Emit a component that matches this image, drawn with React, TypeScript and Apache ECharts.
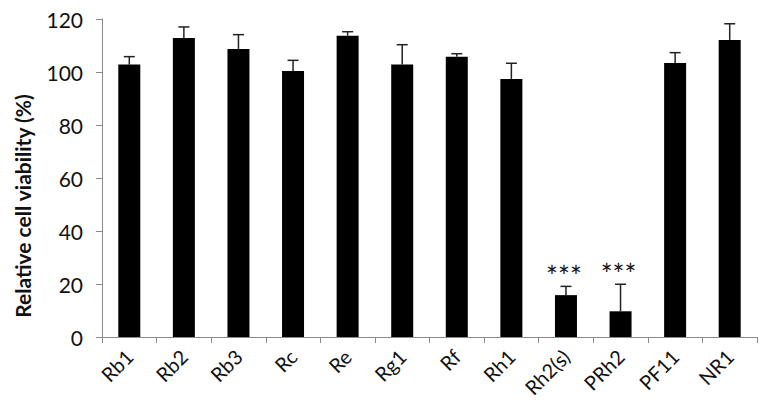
import React, { useEffect, useRef } from "react";
import * as echarts from "echarts";

const categories = ["Rb1", "Rb2", "Rb3", "Rc", "Re", "Rg1", "Rf", "Rh1", "Rh2(s)", "PRh2", "PF11", "NR1"];
const viability = [102.8, 112.8, 108.7, 100.4, 113.7, 102.8, 105.8, 97.4, 15.8, 9.7, 103.4, 112.1];
const errorUp = [3.0, 4.2, 5.4, 4.0, 1.5, 7.5, 1.1, 5.9, 3.3, 10.2, 3.9, 6.1];
const significance = ["", "", "", "", "", "", "", "", "***", "***", "", ""];
const yTicks = { min: 0, max: 120, interval: 20 };
const yTitle = "Relative cell viability (%)";

const FONT = "Lato, 'Open Sans', sans-serif";

export default function App() {
  const ref = useRef<HTMLDivElement>(null);
  useEffect(() => {
    document.body.style.margin = "0";
    const chart = echarts.init(ref.current!, null, { renderer: "svg" });
    chart.setOption({
      animation: false,
      backgroundColor: "#ffffff",
      grid: { left: 102, right: 8, top: 19, bottom: 76, containLabel: false },
      xAxis: {
        type: "category",
        data: categories,
        boundaryGap: true,
        axisLine: { lineStyle: { color: "#8a8a8a", width: 1 } },
        axisTick: { show: true, length: 6, lineStyle: { color: "#8a8a8a" } },
        axisLabel: {
          rotate: 45,
          interval: 0,
          fontSize: 20,
          color: "#111",
          fontFamily: FONT,
          margin: 16,
        },
      },
      yAxis: {
        type: "value",
        min: yTicks.min,
        max: yTicks.max,
        interval: yTicks.interval,
        splitLine: { show: false },
        axisLine: { show: true, lineStyle: { color: "#8a8a8a", width: 1 } },
        axisTick: { show: true, length: 6, lineStyle: { color: "#8a8a8a" } },
        axisLabel: { fontSize: 21, color: "#111", fontFamily: FONT, margin: 19 },
      },
      graphic: [
        {
          type: "text",
          x: 22,
          y: 206,
          rotation: Math.PI / 2,
          style: {
            text: yTitle,
            fill: "#111",
            font: "bold 21px " + FONT,
            align: "center",
            verticalAlign: "middle",
          },
        },
      ],
      series: [
        {
          type: "bar",
          data: viability,
          barWidth: 22,
          itemStyle: { color: "#000" },
          z: 2,
        },
        {
          type: "custom",
          z: 3,
          data: categories.map((c, i) => [i, viability[i], errorUp[i]]),
          encode: { x: 0, y: 1 },
          renderItem: (params: any, api: any) => {
            const idx = api.value(0);
            const v = api.value(1);
            const e = api.value(2);
            const base = api.coord([idx, v]);
            const top = api.coord([idx, v + e]);
            const half = 5.5;
            const children: any[] = [
              {
                type: "line",
                shape: { x1: base[0], y1: base[1], x2: top[0], y2: top[1] },
                style: { stroke: "#222", lineWidth: 1.5 },
              },
              {
                type: "line",
                shape: { x1: top[0] - half, y1: top[1], x2: top[0] + half, y2: top[1] },
                style: { stroke: "#222", lineWidth: 1.5 },
              },
            ];
            const sig = significance[params.dataIndex];
            if (sig) {
              children.push({
                type: "text",
                x: top[0] - 2,
                y: top[1] - 10,
                style: {
                  text: sig,
                  fill: "#111",
                  font: "28px " + FONT,
                  align: "center",
                  verticalAlign: "middle",
                },
              });
            }
            return { type: "group", children };
          },
        },
      ],
    });
    return () => chart.dispose();
  }, []);
  return <div ref={ref} style={{ width: 765, height: 413 }} />;
}
